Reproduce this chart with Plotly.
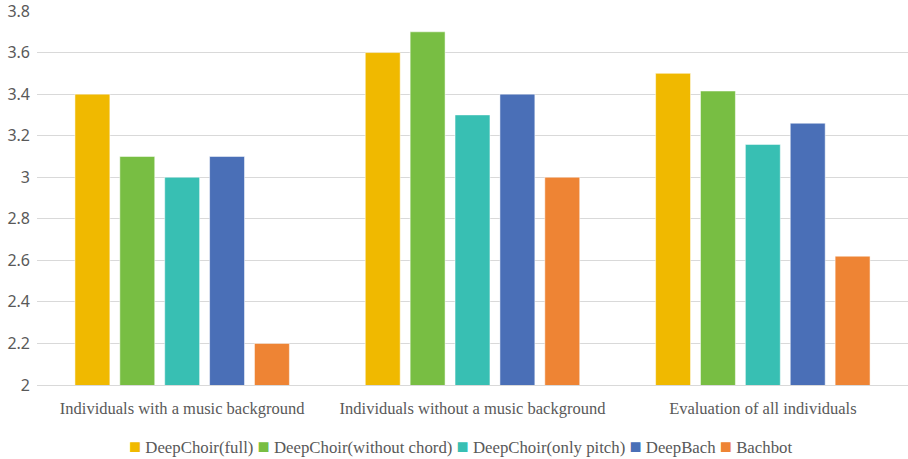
import plotly.graph_objects as go

categories = ["Individuals with a music background",
              "Individuals without a music background",
              "Evaluation of all individuals"]
series_names = ["DeepChoir(full)", "DeepChoir(without chord)", "DeepChoir(only pitch)",
                "DeepBach", "Bachbot"]
full = [3.4, 3.6, 3.5]
without_chord = [3.1, 3.7, 3.415]
only_pitch = [3.0, 3.3, 3.158]
deepbach = [3.1, 3.4, 3.26]
bachbot = [2.2, 3.0, 2.62]
tick_vals = [2, 2.2, 2.4, 2.6, 2.8, 3, 3.2, 3.4, 3.6, 3.8]
tick_text = ["2", "2.2", "2.4", "2.6", "2.8", "3", "3.2", "3.4", "3.6", "3.8"]

colors = ["#F0B900", "#78BE43", "#38BFB3", "#4A6FB7", "#EE8434"]
values = [full, without_chord, only_pitch, deepbach, bachbot]

SERIF = "Liberation Serif, Times New Roman, DejaVu Serif, serif"

fig = go.Figure()
for name, vals, c in zip(series_names, values, colors):
    fig.add_trace(go.Bar(x=categories, y=vals, name=name, marker_color=c,
                         marker_line=dict(color="rgba(255,255,255,0.5)", width=1),
                         showlegend=False))

legend_parts = []
for name, c in zip(series_names, colors):
    legend_parts.append(f"<span style='color:{c};font-size:20px'>■</span> {name}")
legend_text = " ".join(legend_parts)

fig.add_annotation(text=legend_text, xref="paper", yref="paper", x=0.486, y=-0.162,
                   xanchor="center", yanchor="middle", showarrow=False,
                   font=dict(family=SERIF, size=16.8, color="#595959"))

fig.update_layout(
    width=908, height=459,
    margin=dict(l=37, r=0, t=11, b=74, autoexpand=False),
    paper_bgcolor="white", plot_bgcolor="white",
    font=dict(family=SERIF),
    barmode="group", bargap=0.227, bargroupgap=0.222,
    showlegend=False,
    xaxis=dict(showline=True, linecolor="#D9D9D9", linewidth=1,
               tickfont=dict(family=SERIF, size=16.5, color="#595959"),
               ticks="", ticklabelstandoff=8),
    yaxis=dict(range=[2, 3.8001], tickvals=tick_vals, ticktext=tick_text,
               showgrid=True, gridcolor="#D9D9D9", gridwidth=1, zeroline=False,
               tickfont=dict(family="Noto Sans", size=16, color="#595959"),
               ticklabelstandoff=6, ticklabeloverflow="allow"),
)

fig.write_html("out.html")
